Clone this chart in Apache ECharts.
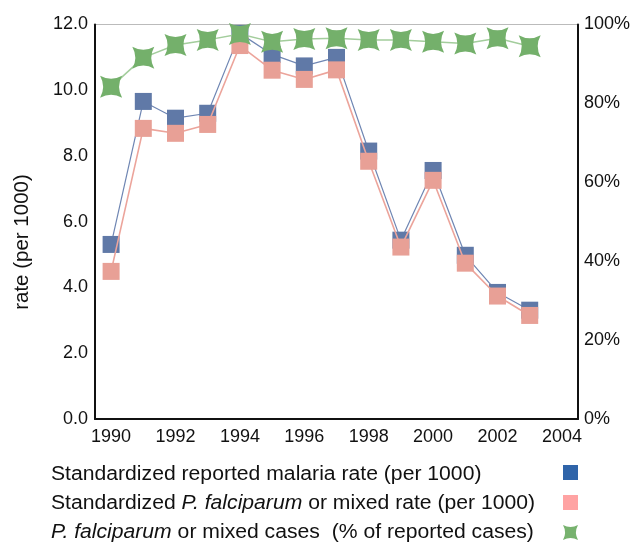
<!DOCTYPE html>
<html>
<head>
<meta charset="utf-8">
<title>Malaria rates 1990-2003</title>
<script src="https://cdn.jsdelivr.net/npm/echarts@6/dist/echarts.min.js"></script>
<style>
  html, body { margin: 0; padding: 0; background: #fff; }
  #chart { width: 634px; height: 543px; }
</style>
</head>
<body>
<div id="chart"></div>
<script>
// Years of observation
const years = [1990, 1991, 1992, 1993, 1994, 1995, 1996, 1997, 1998, 1999, 2000, 2001, 2002, 2003];
// Standardized reported malaria rate (per 1000)
const reportedRate = [5.31, 9.66, 9.15, 9.30, 11.73, 11.09, 10.74, 11.00, 8.15, 5.44, 7.56, 4.98, 3.85, 3.31];
// Standardized P. falciparum or mixed rate (per 1000)
const falciparumRate = [4.49, 8.84, 8.69, 8.96, 11.36, 10.61, 10.33, 10.62, 7.84, 5.23, 7.26, 4.74, 3.74, 3.15];
// P. falciparum or mixed cases, % of reported cases
const falciparumShare = [84.2, 91.6, 94.8, 96.1, 97.6, 95.6, 96.3, 96.5, 96.1, 96.1, 95.6, 95.2, 96.5, 94.5];
// Tick labels
const xTicks = [1990, 1992, 1994, 1996, 1998, 2000, 2002, 2004];

const FONT = "'Liberation Sans', Arial, Helvetica, sans-serif";
// four-pointed star with its points on the diagonals
const STAR = 'path://M0,0 Q10,5.5 20,0 Q14.5,10 20,20 Q10,14.5 0,20 Q5.5,10 0,0 Z';

const pair = (xs, ys) => xs.map((x, i) => [x, ys[i]]);

const chart = echarts.init(document.getElementById('chart'), null, { renderer: 'canvas' });

// Legend rows: text on the left, swatch on the right (swatches come from the legend component)
const legendRows = [
  { y: 475, parts: [['n', 'Standardized reported malaria rate (per 1000)']] },
  { y: 504, parts: [['n', 'Standardized '], ['i', 'P. falciparum'], ['n', ' or mixed rate (per 1000)']] },
  { y: 533, parts: [['i', 'P. falciparum'], ['n', ' or mixed cases  (% of reported cases)']] }
];
const legendText = legendRows.map(row => ({
  type: 'text',
  x: 51,
  y: row.y,
  scaleX: 1.085,
  style: {
    text: row.parts.map(p => '{' + p[0] + '|' + p[1] + '}').join(''),
    verticalAlign: 'middle',
    rich: {
      n: { fontFamily: FONT, fontSize: 19.5, fill: '#111' },
      i: { fontFamily: FONT, fontSize: 19.5, fontStyle: 'italic', fill: '#111' }
    }
  }
}));

// Left axis title
const axisTitle = {
  type: 'text',
  x: 22,
  y: 242,
  rotation: Math.PI / 2,
  style: {
    text: 'rate (per 1000)',
    fontFamily: FONT,
    fontSize: 20.5,
    fill: '#111',
    align: 'center',
    verticalAlign: 'middle'
  }
};

chart.setOption({
  animation: false,
  backgroundColor: '#fff',
  textStyle: { fontFamily: FONT },
  grid: {
    left: 95, right: 56, top: 24.5, bottom: 124,
    show: true, borderColor: '#bbbbbb', borderWidth: 1, backgroundColor: 'transparent'
  },
  legend: {
    orient: 'vertical',
    left: 563,
    top: 465,
    padding: 0,
    itemWidth: 15,
    itemHeight: 15,
    itemGap: 15,
    formatter: () => '',
    selectedMode: false,
    data: [
      { name: 'reported', icon: 'rect', itemStyle: { color: '#2f64a9' } },
      { name: 'falciparum', icon: 'rect', itemStyle: { color: '#ffa3a3' } },
      { name: 'share', icon: STAR, itemStyle: { color: '#77b26e' } }
    ]
  },
  xAxis: {
    type: 'value',
    min: 1989.5,
    max: 2004.5,
    axisLine: { show: true, lineStyle: { color: '#111', width: 2 } },
    axisTick: { show: false },
    splitLine: { show: false },
    axisLabel: {
      customValues: xTicks,
      formatter: v => String(v),
      color: '#111',
      fontSize: 18,
      margin: 9
    }
  },
  yAxis: [
    {
      type: 'value',
      min: 0, max: 12, interval: 2,
      axisLine: { show: true, lineStyle: { color: '#111', width: 2 } },
      axisTick: { show: false },
      splitLine: { show: false },
      axisLabel: { formatter: v => v.toFixed(1), color: '#111', fontSize: 18, margin: 7 }
    },
    {
      type: 'value',
      min: 0, max: 100, interval: 20,
      position: 'right',
      axisLine: { show: true, lineStyle: { color: '#111', width: 2 } },
      axisTick: { show: false },
      splitLine: { show: false },
      axisLabel: { formatter: v => v + '%', color: '#111', fontSize: 18, margin: 6 }
    }
  ],
  series: [
    {
      name: 'reported',
      type: 'line',
      yAxisIndex: 0,
      data: pair(years, reportedRate),
      symbol: 'rect',
      symbolSize: 17,
      clip: false,
      z: 2,
      itemStyle: { color: '#6079a7' },
      lineStyle: { color: '#6f86b3', width: 1.2 }
    },
    {
      name: 'falciparum',
      type: 'line',
      yAxisIndex: 0,
      data: pair(years, falciparumRate),
      symbol: 'rect',
      symbolSize: 17,
      clip: false,
      z: 3,
      itemStyle: { color: '#e8a096' },
      lineStyle: { color: '#eca49b', width: 1.6 }
    },
    {
      name: 'share',
      type: 'line',
      yAxisIndex: 1,
      data: pair(years, falciparumShare),
      symbol: STAR,
      symbolSize: 22,
      clip: false,
      z: 4,
      itemStyle: { color: '#74b06b' },
      lineStyle: { color: '#a3cd9c', width: 1.5 }
    }
  ],
  graphic: legendText.concat([axisTitle])
});
</script>
</body>
</html>
